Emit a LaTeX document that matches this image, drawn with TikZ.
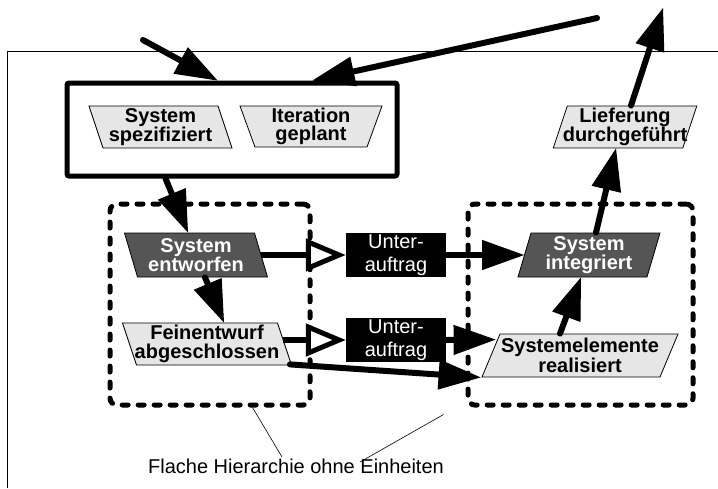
\documentclass[tikz,border=0pt]{standalone}
\usepackage{fontspec}
\setmainfont{Liberation Sans}
\usetikzlibrary{arrows.meta,calc}

\definecolor{lightfill}{HTML}{E6E6E6}
\definecolor{darkfill}{HTML}{555555}

% slanted state box: name, cx, cy, width, height, top shift, style, text
\newcommand\statebox[8]{%
  \draw[#7] ({#2-#4/2+#6/2},{#3-#5/2}) -- ({#2+#4/2+#6/2},{#3-#5/2})
    -- ({#2+#4/2-#6/2},{#3+#5/2}) -- ({#2-#4/2-#6/2},{#3+#5/2}) -- cycle;
  \node[#7, draw=none, fill=none, minimum width=#4, minimum height=#5,
        inner sep=0pt] (#1) at (#2,#3) {#8};
}

\tikzset{
  lightstate/.style={draw=black, line width=0.8pt, fill=lightfill, text=black,
    font=\bfseries\fontsize{20}{18.5}\selectfont, align=center},
  darkstate/.style={draw=black, line width=0.8pt, fill=darkfill, text=white,
    font=\bfseries\fontsize{20}{18.5}\selectfont, align=center},
  subcontract/.style={fill=black, text=white, minimum width=100, minimum height=44,
    inner sep=0pt, font=\fontsize{20}{23}\selectfont, align=center},
  group/.style={draw=black, line width=5pt, rounded corners=2pt, inner sep=0pt},
  hierbox/.style={draw=black, line width=5pt, dash pattern=on 6pt off 10pt,
    line cap=round, rounded corners=7pt, inner sep=0pt},
  flow/.style={line width=6pt, line cap=round,
    -{Triangle[length=42pt,width=30pt,line width'=1pt]}},
  handover/.style={line width=6pt,
    -{Triangle[fill=white,length=40pt,width=32pt,line width'=5pt]}},
  pointer/.style={line width=0.6pt},
}

\begin{document}
\begin{tikzpicture}[x=1pt,y=-1pt]
\useasboundingbox (0,0) rectangle (718,488);

% thin outer frame
\draw[line width=1pt] (7,488) -- (7,51) -- (718,51);

% dashed hierarchy groups
\node[hierbox, minimum width=200, minimum height=201] (dl) at (210,304.5) {};
\node[hierbox, minimum width=225, minimum height=201] (dr) at (580.5,304.5) {};

% solid group of the start states
\node[group, minimum width=330, minimum height=93] (grp) at (232,129.5) {};

% states
\statebox{sspec}{160.5}{127}{129}{42}{-14}{lightstate}{System\\spezifiziert}
\draw[lightstate] (240,106) -- (382,106) -- (367,147) -- (255,147) -- cycle;
\node[lightstate, draw=none, fill=none, minimum width=112, minimum height=41,
      inner sep=0pt] (iter) at (311,126.5) {Iteration\\geplant};
\statebox{lief}{625}{127}{129.5}{42}{14}{lightstate}{Lieferung\\durchgeführt}
\statebox{sentw}{196}{255}{130}{44}{-13}{darkstate}{System\\entworfen}
\statebox{fein}{207}{344}{155}{42}{-14}{lightstate}{Feinentwurf\\abgeschlossen}
\statebox{sint}{589}{255}{129}{44}{13}{darkstate}{System\\integriert}
\statebox{selem}{580}{355.5}{178}{43}{18}{lightstate}{Systemelemente\\realisiert}

% subcontracts
\node[subcontract] (uaA) at (396,255) {Unter-\\auftrag};
\node[subcontract] (uaB) at (396,340) {Unter-\\auftrag};

% incoming and outgoing flows
\coordinate (inA) at (143,40);
\coordinate (inB) at (597,18);
\coordinate (out) at (663,8);
\draw[flow] (inA) -- ($(grp.north west)+(153,0)$);
\draw[flow] (inB) -- ($(grp.north west)+(248,0)$);
\draw[flow] ($(grp.south west)+(101,0)$) -- ($(sentw.north)+(-8,0)$);
\draw[flow] ($(sentw.south)+(9,0)$) -- ($(fein.north)+(17,0)$);

% handover to subcontracts
\draw[handover] (sentw.east) -- (uaA.west);
\draw[handover] ($(fein.east)+(-2,-4)$) -- (uaB.west);

% results back into integration
\draw[flow] (uaA.east) -- (sint.west);
\draw[flow] (uaB.east) -- ($(selem.north west)+(5,6)$);
\draw[flow] ($(fein.south east)+(5,-1)$) -- ($(selem.south west)+(-10,0)$);
\draw[flow] ($(selem.north)+(-20,0)$) -- ($(sint.south)+(-8,0)$);
\draw[flow] ($(sint.north)+(7,0)$) -- ($(lief.south)+(-9,0)$);
\draw[flow] ($(lief.north)+(6,0)$) -- (out);

% annotation
\node[font=\fontsize{20}{24}\selectfont, anchor=base, inner sep=0pt] (lbl)
  at (296,473) {Flache Hierarchie ohne Einheiten};
\draw[pointer] ($(lbl.base)+(-14,-16)$) -- ($(dl.south west)+(145,0)$);
\draw[pointer] ($(lbl.base)+(64,-11)$) -- ($(dr.south west)+(-22,7)$);
\end{tikzpicture}
\end{document}
